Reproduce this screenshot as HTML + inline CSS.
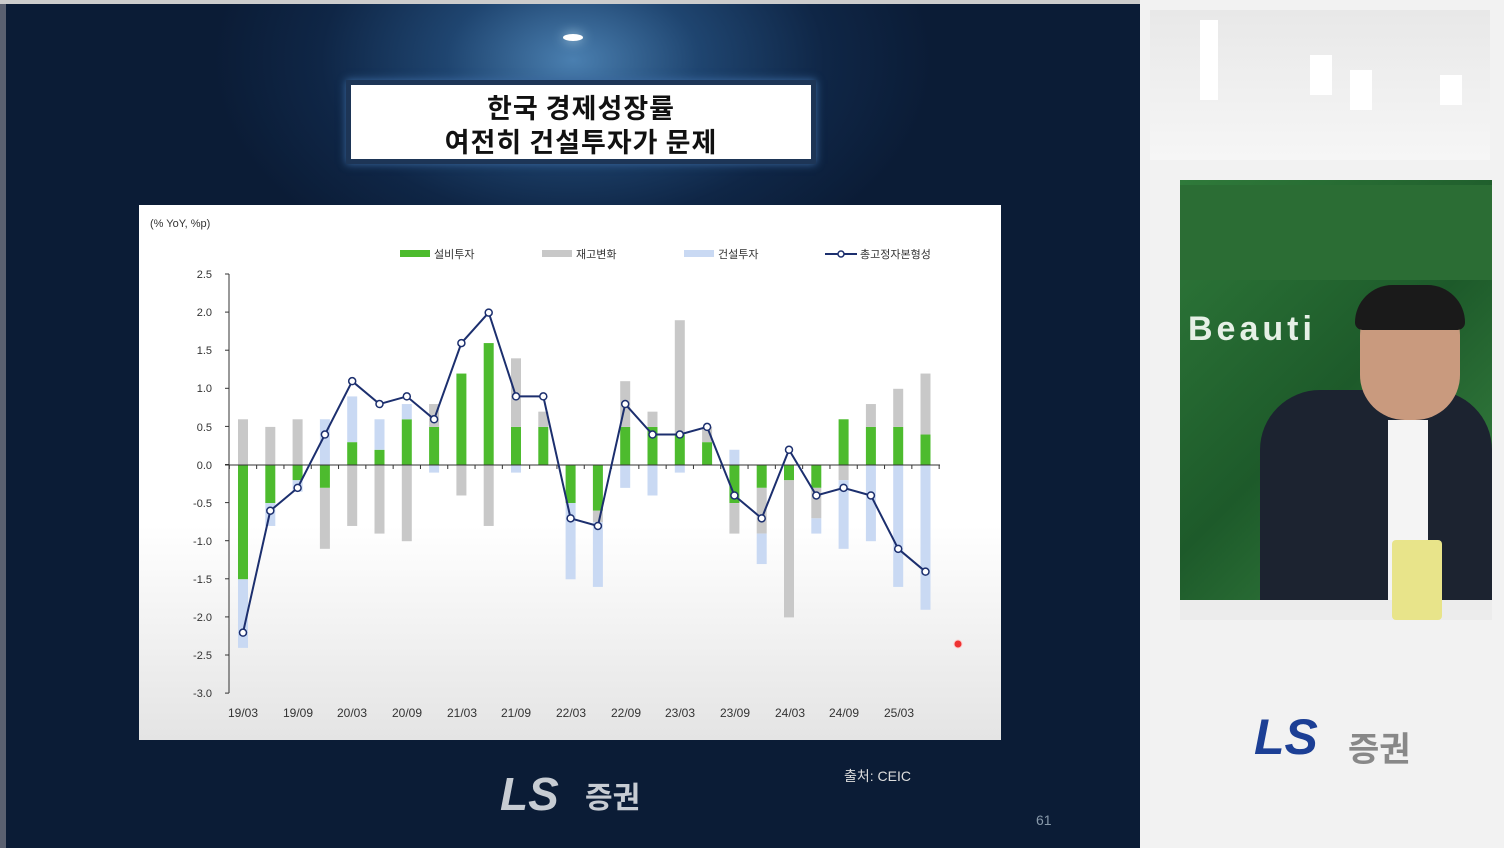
<!DOCTYPE html>
<html><head><meta charset="utf-8"><style>
body{margin:0;width:1504px;height:848px;overflow:hidden;background:#0b1830;font-family:"Liberation Sans","Noto Sans CJK KR",sans-serif;position:relative}
.slide{position:absolute;left:0;top:0;width:1140px;height:848px;background:radial-gradient(ellipse 360px 230px at 573px 60px,#4a7fb0 0%,#1f4570 35%,#0f2646 70%,#0b1c36 100%)}
.right{position:absolute;left:1140px;top:0;width:364px;height:848px;background:#f2f2f2}
.title{position:absolute;left:346px;top:80px;width:470px;height:84px;background:#fff;border:5px solid #1d3556;box-shadow:0 0 8px #3b6aa0;box-sizing:border-box;text-align:center;font-family:"Noto Sans CJK KR",sans-serif;font-weight:bold;font-size:27px;line-height:34px;color:#111;padding-top:5px;letter-spacing:1px}
.chart{position:absolute;left:139px;top:205px;width:862px;height:535px;background:linear-gradient(#fff 60%,#e4e4e4)}
</style></head><body>
<div class="slide"></div>
<div style="position:absolute;left:0;top:0;width:6px;height:848px;background:#5a6070"></div>
<div style="position:absolute;left:563px;top:34px;width:20px;height:7px;border-radius:50%;background:#fff;box-shadow:0 0 12px #bde"></div>
<div style="position:absolute;left:0;top:0;width:1140px;height:4px;background:#ccc"></div>
<div class="title">한국 경제성장률<br>여전히 건설투자가 문제</div>
<div class="chart"></div>
<svg style="position:absolute;left:0;top:0" width="1140" height="848" id="s">
<g font-family="Liberation Sans, Noto Sans CJK KR, sans-serif" font-size="12" fill="#333">
<text x="150" y="227" font-size="11">(% YoY, %p)</text>
<rect x="400" y="250" width="30" height="7" fill="#4dbb2e"/><text x="434" y="258" font-size="11">설비투자</text>
<rect x="542" y="250" width="30" height="7" fill="#c8c8c8"/><text x="576" y="258" font-size="11">재고변화</text>
<rect x="684" y="250" width="30" height="7" fill="#c9d9f3"/><text x="718" y="258" font-size="11">건설투자</text>
<line x1="825" y1="254" x2="857" y2="254" stroke="#1c2f6e" stroke-width="2"/><circle cx="841" cy="254" r="3" fill="#fff" stroke="#1c2f6e" stroke-width="1.5"/><text x="860" y="258" font-size="11">총고정자본형성</text>
<g text-anchor="end" font-size="11">
<text x="212" y="278">2.5</text><text x="212" y="316">2.0</text><text x="212" y="354">1.5</text><text x="212" y="392">1.0</text><text x="212" y="431">0.5</text><text x="212" y="469">0.0</text><text x="212" y="507">-0.5</text><text x="212" y="545">-1.0</text><text x="212" y="583">-1.5</text><text x="212" y="621">-2.0</text><text x="212" y="659">-2.5</text><text x="212" y="697">-3.0</text></g>
<g text-anchor="middle" font-size="12">
<text x="243" y="717">19/03</text><text x="298" y="717">19/09</text><text x="352" y="717">20/03</text><text x="407" y="717">20/09</text><text x="462" y="717">21/03</text><text x="516" y="717">21/09</text><text x="571" y="717">22/03</text><text x="626" y="717">22/09</text><text x="680" y="717">23/03</text><text x="735" y="717">23/09</text><text x="790" y="717">24/03</text><text x="844" y="717">24/09</text><text x="899" y="717">25/03</text></g>
</g>
<g id="plot"></g>
<circle cx="958" cy="644" r="4" fill="#e33" stroke="#fcc"/>
<text x="844" y="781" font-size="14" fill="#ddd" font-family="Liberation Sans, Noto Sans CJK KR, sans-serif">출처: CEIC</text>
<text x="1036" y="825" font-size="14" fill="#8899aa" font-family="Liberation Sans, sans-serif">61</text>
<text x="500" y="810" font-size="46" font-weight="bold" font-style="italic" fill="#c7ccd3" font-family="Liberation Sans, sans-serif">LS</text>
<text x="585" y="808" font-size="30" font-weight="bold" fill="#c7ccd3" font-family="Noto Sans CJK KR, sans-serif">증권</text>
</svg>
<div class="right">
<div style="position:absolute;left:10px;top:10px;width:340px;height:150px;background:linear-gradient(#e8e8e8,#f6f6f6)"></div>
<div style="position:absolute;left:60px;top:20px;width:18px;height:80px;background:#fff"></div>
<div style="position:absolute;left:170px;top:55px;width:22px;height:40px;background:#fff"></div>
<div style="position:absolute;left:210px;top:70px;width:22px;height:40px;background:#fff"></div>
<div style="position:absolute;left:300px;top:75px;width:22px;height:30px;background:#fff"></div>
<div style="position:absolute;left:40px;top:180px;width:312px;height:436px;background:linear-gradient(135deg,#2f7a3a,#1d5a2a 50%,#3d8a45)"></div>
<div style="position:absolute;left:40px;top:185px;width:312px;height:95px;background:#2b6d34"></div>
<div style="position:absolute;left:48px;top:310px;font:bold 34px 'Liberation Sans',sans-serif;color:#e6f0e6;letter-spacing:4px">Beauti</div>
<div style="position:absolute;left:120px;top:390px;width:232px;height:210px;background:#1c2330;border-radius:60px 60px 0 0"></div>
<div style="position:absolute;left:220px;top:290px;width:100px;height:130px;background:#c99a7e;border-radius:45px"></div>
<div style="position:absolute;left:215px;top:285px;width:110px;height:45px;background:#1a1a1a;border-radius:50px 50px 10px 10px"></div>
<div style="position:absolute;left:248px;top:420px;width:40px;height:180px;background:#f4f4f4"></div>
<div style="position:absolute;left:40px;top:600px;width:312px;height:20px;background:#ececec"></div>
<div style="position:absolute;left:252px;top:540px;width:50px;height:80px;background:#e8e48a;border-radius:4px"></div>
<div style="position:absolute;left:114px;top:708px;font:bold italic 50px 'Liberation Sans',sans-serif;color:#1c3f95">LS</div>
<div style="position:absolute;left:208px;top:722px;font:bold 34px 'Noto Sans CJK KR',sans-serif;color:#888">증권</div>
</div>
<script>
var z=465,u=76.2,x0=243,dx=27.3;
var G="#4dbb2e",R="#c8c8c8",B="#c9d9f3";
var bars=[
[[R,0,.6],[G,0,-1.5],[B,-1.5,-2.4]],
[[R,0,.5],[G,0,-.5],[B,-.5,-.8]],
[[R,0,.6],[G,0,-.2],[B,-.2,-.35]],
[[B,0,.6],[G,0,-.3],[R,-.3,-1.1]],
[[G,0,.3],[B,.3,.9],[R,0,-.8]],
[[G,0,.2],[B,.2,.6],[R,0,-.9]],
[[G,0,.6],[B,.6,.8],[R,0,-1]],
[[G,0,.5],[R,.5,.8],[B,0,-.1]],
[[G,0,1.2],[R,0,-.4]],
[[G,0,1.6],[R,0,-.8]],
[[G,0,.5],[R,.5,1.4],[B,0,-.1]],
[[G,0,.5],[R,.5,.7]],
[[G,0,-.5],[B,-.5,-1.5]],
[[G,0,-.6],[R,-.6,-.75],[B,-.75,-1.6]],
[[G,0,.5],[R,.5,1.1],[B,0,-.3]],
[[G,0,.5],[R,.5,.7],[B,0,-.4]],
[[G,0,.4],[R,.4,1.9],[B,0,-.1]],
[[G,0,.3],[R,.3,.5]],
[[B,0,.2],[G,0,-.5],[R,-.5,-.9]],
[[G,0,-.3],[R,-.3,-.9],[B,-.9,-1.3]],
[[G,0,-.2],[R,-.2,-2.0]],
[[G,0,-.3],[R,-.3,-.7],[B,-.7,-.9]],
[[G,0,.6],[R,0,-.2],[B,-.2,-1.1]],
[[G,0,.5],[R,.5,.8],[B,0,-1.0]],
[[G,0,.5],[R,.5,1.0],[B,0,-1.6]],
[[G,0,.4],[R,.4,1.2],[B,0,-1.9]]];
var line=[-2.2,-.6,-.3,.4,1.1,.8,.9,.6,1.6,2.0,.9,.9,-.7,-.8,.8,.4,.4,.5,-.4,-.7,.2,-.4,-.3,-.4,-1.1,-1.4];
var h='';
bars.forEach(function(b,i){var x=x0+dx*i-5;b.forEach(function(s){var y1=z-s[2]*u,y2=z-s[1]*u;h+='<rect x="'+x+'" y="'+Math.min(y1,y2)+'" width="10" height="'+Math.abs(y2-y1)+'" fill="'+s[0]+'"/>';});});
h+='<line x1="229" y1="274" x2="229" y2="693" stroke="#333"/><line x1="225" y1="465" x2="940" y2="465" stroke="#333"/>';
for(var k=0;k<12;k++){var y=274+k*38.1;h+='<line x1="225" y1="'+y+'" x2="229" y2="'+y+'" stroke="#333"/>';}
for(var k=0;k<27;k++){var x=x0-dx/2+dx*k;h+='<line x1="'+x+'" y1="465" x2="'+x+'" y2="469" stroke="#333"/>';}
var p=line.map(function(v,i){return (x0+dx*i)+','+(z-v*u)}).join(' ');
h+='<polyline points="'+p+'" fill="none" stroke="#1c2f6e" stroke-width="2"/>';
line.forEach(function(v,i){h+='<circle cx="'+(x0+dx*i)+'" cy="'+(z-v*u)+'" r="3.5" fill="#fff" stroke="#1c2f6e" stroke-width="1.5"/>';});
document.getElementById('plot').innerHTML=h;
</script>
</body></html>
